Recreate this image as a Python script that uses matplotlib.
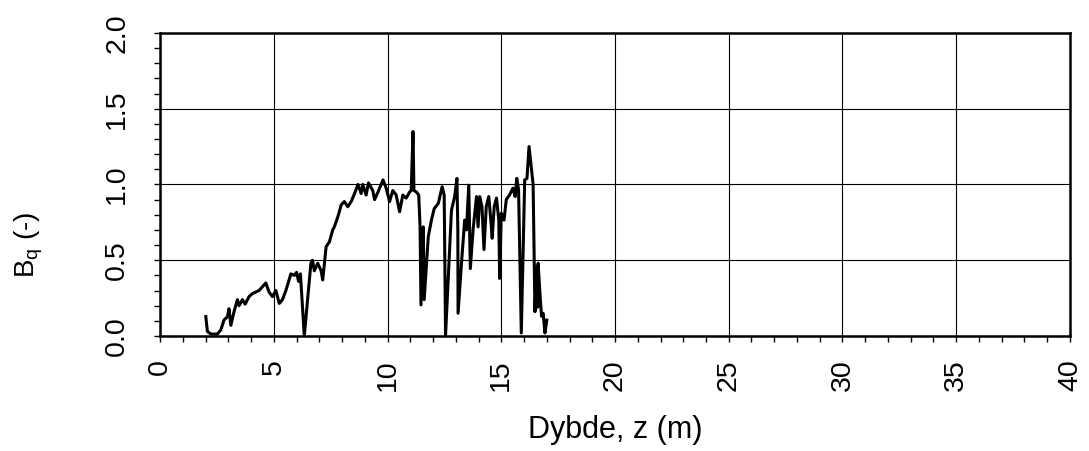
import matplotlib
matplotlib.use('Agg')
import matplotlib.pyplot as plt
from matplotlib.ticker import MultipleLocator, FormatStrFormatter

plt.rcParams['font.family'] = ['Liberation Sans', 'DejaVu Sans']
plt.rcParams['mathtext.default'] = 'regular'

# Dybde (m) og poretrykksparameter Bq (-)
dybde = [
    2.01, 2.08, 2.23, 2.52, 2.67, 2.81, 2.96, 3.03, 3.11, 3.25,
    3.40, 3.47, 3.62, 3.74, 3.91, 4.06, 4.20, 4.35, 4.50, 4.65,
    4.79, 4.94, 5.09, 5.24, 5.38, 5.53, 5.75, 5.90, 6.00, 6.09,
    6.17, 6.34, 6.63, 6.70, 6.78, 6.93, 7.08, 7.15, 7.30, 7.44,
    7.59, 7.66, 7.80, 7.88, 7.96, 8.10, 8.25, 8.40, 8.55, 8.70,
    8.84, 8.91, 9.06, 9.16, 9.35, 9.43, 9.58, 9.80, 9.94, 10.09,
    10.23, 10.38, 10.53, 10.67, 10.82, 10.97, 11.04, 11.12, 11.16, 11.27,
    11.37, 11.43, 11.47, 11.57, 11.61, 11.79, 11.93, 12.05, 12.23, 12.30,
    12.40, 12.49, 12.55, 12.81, 12.95, 13.05, 13.09, 13.10, 13.25, 13.39,
    13.47, 13.57, 13.64, 13.76, 13.91, 13.98, 14.05, 14.15, 14.24, 14.34,
    14.45, 14.54, 14.60, 14.69, 14.79, 14.89, 14.93, 15.00, 15.12, 15.22,
    15.36, 15.51, 15.61, 15.68, 15.76, 15.88, 16.03, 16.13, 16.22, 16.30,
    16.40, 16.48, 16.55, 16.60, 16.62, 16.70, 16.77, 16.84, 16.92, 17.00,
]
bq = [
    0.128, 0.030, 0.013, 0.013, 0.040, 0.105, 0.127, 0.180, 0.070, 0.160,
    0.240, 0.200, 0.240, 0.210, 0.260, 0.280, 0.290, 0.300, 0.325, 0.350,
    0.290, 0.260, 0.300, 0.215, 0.240, 0.300, 0.410, 0.400, 0.420, 0.360,
    0.410, 0.000, 0.480, 0.500, 0.430, 0.480, 0.430, 0.370, 0.590, 0.620,
    0.700, 0.720, 0.780, 0.820, 0.865, 0.887, 0.853, 0.887, 0.940, 1.000,
    0.940, 1.000, 0.930, 1.010, 0.960, 0.900, 0.950, 1.030, 0.975, 0.887,
    0.960, 0.930, 0.820, 0.930, 0.910, 0.950, 0.960, 1.350, 0.960, 0.950,
    0.930, 0.720, 0.205, 0.720, 0.240, 0.655, 0.765, 0.840, 0.875, 0.920,
    0.985, 0.930, 0.005, 0.830, 0.920, 1.040, 0.700, 0.150, 0.480, 0.765,
    0.700, 0.995, 0.445, 0.700, 0.920, 0.720, 0.920, 0.855, 0.570, 0.855,
    0.920, 0.765, 0.645, 0.855, 0.910, 0.765, 0.380, 0.810, 0.765, 0.900,
    0.930, 0.975, 0.920, 1.040, 0.965, 0.020, 1.030, 1.040, 1.250, 1.140,
    1.000, 0.160, 0.455, 0.190, 0.480, 0.280, 0.130, 0.150, 0.020, 0.105,
]

fig = plt.figure(figsize=(10.89, 4.51), dpi=100)
ax = fig.add_axes([0.147, 0.255, 0.8355, 0.672])

ax.plot(dybde, bq, color='black', linewidth=2.2)

ax.set_xlim(0, 40)
ax.set_ylim(0, 2.0)
ax.xaxis.set_major_locator(MultipleLocator(5))
ax.xaxis.set_minor_locator(MultipleLocator(1))
ax.yaxis.set_major_locator(MultipleLocator(0.5))
ax.yaxis.set_minor_locator(MultipleLocator(0.1))
ax.yaxis.set_major_formatter(FormatStrFormatter('%.1f'))

ax.grid(True, which='major', color='black', linewidth=0.8)
for s in ax.spines.values():
    s.set_linewidth(1.8)

ax.tick_params(which='both', direction='out', length=4.5, width=1.0,
               top=False, right=False, labelsize=20.5)
ax.tick_params(axis='x', which='major', pad=12, labelrotation=90)
ax.tick_params(axis='y', which='major', pad=17, labelrotation=90)
for lbl in ax.get_yticklabels():
    lbl.set_verticalalignment('center')

ax.set_xlabel('Dybde, z (m)', fontsize=22)
ax.xaxis.set_label_coords(0.5, -0.26)
ax.set_ylabel('B$_q$ (-)', fontsize=20)
ax.yaxis.set_label_coords(-0.127, 0.30)

fig.savefig('out.png', dpi=100)
